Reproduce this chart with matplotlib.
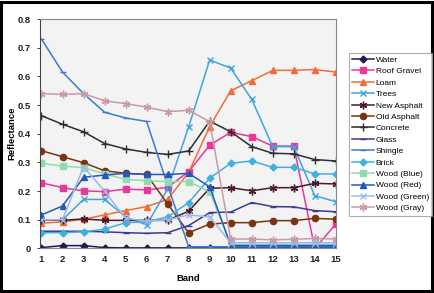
import matplotlib
matplotlib.use("Agg")
import matplotlib.pyplot as plt
from matplotlib.patches import Rectangle

plt.rcParams["font.family"] = ["Liberation Sans", "DejaVu Sans"]

bands = list(range(1, 16))

water        = [0.003, 0.010, 0.010, 0.003, 0.002, 0.002, 0.002, 0.002, 0.002, 0.002, 0.002, 0.002, 0.002, 0.002, 0.002]
roof_gravel  = [0.229, 0.212, 0.201, 0.198, 0.207, 0.204, 0.213, 0.268, 0.360, 0.405, 0.390, 0.357, 0.357, 0.000, 0.085]
loam         = [0.088, 0.093, 0.102, 0.117, 0.132, 0.146, 0.171, 0.265, 0.425, 0.550, 0.585, 0.621, 0.621, 0.624, 0.615]
trees        = [0.100, 0.100, 0.171, 0.171, 0.110, 0.082, 0.207, 0.424, 0.657, 0.629, 0.520, 0.355, 0.355, 0.184, 0.163]
new_asphalt  = [0.100, 0.098, 0.103, 0.098, 0.098, 0.098, 0.098, 0.130, 0.210, 0.212, 0.201, 0.212, 0.212, 0.227, 0.225]
old_asphalt  = [0.341, 0.320, 0.299, 0.271, 0.262, 0.258, 0.155, 0.055, 0.085, 0.090, 0.090, 0.097, 0.097, 0.105, 0.102]
concrete     = [0.463, 0.433, 0.407, 0.366, 0.347, 0.335, 0.328, 0.340, 0.444, 0.407, 0.355, 0.332, 0.330, 0.310, 0.305]
glass        = [0.060, 0.060, 0.060, 0.058, 0.055, 0.053, 0.055, 0.080, 0.125, 0.127, 0.160, 0.146, 0.145, 0.132, 0.128]
shingle      = [0.730, 0.615, 0.540, 0.475, 0.455, 0.443, 0.220, 0.006, 0.006, 0.006, 0.006, 0.006, 0.006, 0.006, 0.006]
brick        = [0.055, 0.055, 0.058, 0.067, 0.090, 0.093, 0.110, 0.160, 0.245, 0.297, 0.305, 0.283, 0.283, 0.260, 0.260]
wood_blue    = [0.297, 0.287, 0.282, 0.260, 0.241, 0.236, 0.233, 0.233, 0.198, 0.014, 0.014, 0.014, 0.014, 0.014, 0.014]
wood_red     = [0.117, 0.148, 0.248, 0.256, 0.262, 0.258, 0.258, 0.262, 0.215, 0.010, 0.010, 0.010, 0.010, 0.010, 0.010]
wood_green   = [0.100, 0.100, 0.285, 0.200, 0.105, 0.095, 0.100, 0.117, 0.110, 0.020, 0.020, 0.020, 0.020, 0.020, 0.020]
wood_gray    = [0.540, 0.537, 0.540, 0.515, 0.505, 0.493, 0.477, 0.482, 0.442, 0.033, 0.033, 0.030, 0.032, 0.035, 0.033]

series_names = ["Water", "Roof Gravel", "Loam", "Trees", "New Asphalt", "Old Asphalt",
                "Concrete", "Glass", "Shingle", "Brick", "Wood (Blue)", "Wood (Red)",
                "Wood (Green)", "Wood (Gray)"]
series_values = [water, roof_gravel, loam, trees, new_asphalt, old_asphalt, concrete,
                 glass, shingle, brick, wood_blue, wood_red, wood_green, wood_gray]

asterisk = (6, 2, 0)
styles = [
    ("#1c1c50", "D", 3.5),
    ("#e8389a", "s", 4.5),
    ("#f26b3a", "^", 4.5),
    ("#3fa5dc", "x", 5),
    ("#4a1a2a", asterisk, 5.5),
    ("#7a3510", "o", 4.5),
    ("#2e2e2e", "+", 5.5),
    ("#3b3a98", "_", 5),
    ("#3a7bd0", "_", 5),
    ("#3fb0e0", "D", 3.5),
    ("#90dcb0", "s", 4.5),
    ("#2557c0", "^", 4.5),
    ("#a0b8e8", "x", 5),
    ("#c89aa8", asterisk, 5.5),
]

fig = plt.figure(figsize=(4.35, 2.93), dpi=100)
ax = fig.add_axes([0.092, 0.152, 0.680, 0.783])
ax.set_facecolor("#f3f3f3")

for name, vals, (c, m, ms) in zip(series_names, series_values, styles):
    ax.plot(bands, vals, color=c, marker=m, markersize=ms, linewidth=1.1,
            markeredgewidth=1.0, markeredgecolor=c, markerfacecolor=c, label=name)

ax.set_xlim(0.93, 15.0)
ax.set_ylim(0, 0.8)
ax.set_xticks(bands)
ax.set_yticks([0, 0.1, 0.2, 0.3, 0.4, 0.5, 0.6, 0.7, 0.8])
ax.set_yticklabels(["0", "0.1", "0.2", "0.3", "0.4", "0.5", "0.6", "0.7", "0.8"])
ax.tick_params(axis="both", labelsize=6.8, length=2.5, width=0.6, colors="#222222")
ax.tick_params(axis="y", pad=4)
for lab in ax.get_xticklabels() + ax.get_yticklabels():
    lab.set_fontweight("bold")
ax.tick_params(axis="x", length=0, pad=5)
for side in ["top", "right", "bottom"]:
    ax.spines[side].set_color("#888888")
    ax.spines[side].set_linewidth(0.8)
ax.spines["left"].set_color("#444444")
ax.spines["left"].set_linewidth(0.8)

ax.set_xlabel("Band", fontsize=6.8, fontweight="bold", labelpad=7)
ax.set_ylabel("Reflectance", fontsize=6.8, fontweight="bold", labelpad=1)

leg = fig.legend(loc="upper left", bbox_to_anchor=(0.802, 0.82), fontsize=6.0,
                 frameon=True, fancybox=False, edgecolor="#999999",
                 handlelength=2.6, handletextpad=0.2, labelspacing=0.43,
                 borderpad=0.4, borderaxespad=0)
leg.get_frame().set_linewidth(0.8)

fig.patches.append(Rectangle((0.003, 0.008), 0.991, 0.985, transform=fig.transFigure,
                             fill=False, edgecolor="black", linewidth=2.2))

fig.savefig("out.png", dpi=100)
